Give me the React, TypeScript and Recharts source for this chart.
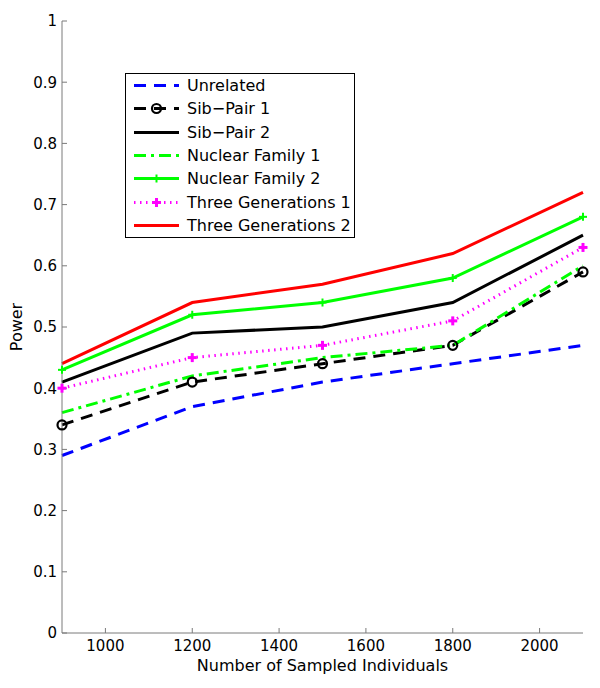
import { LineChart, Line, XAxis, YAxis, Legend } from "recharts"

// Power vs number of sampled individuals, one array per study design
const sampleSizes = [900, 1200, 1500, 1800, 2100]
const unrelated = [0.29, 0.37, 0.41, 0.44, 0.47]
const sibPair1 = [0.34, 0.41, 0.44, 0.47, 0.59]
const sibPair2 = [0.41, 0.49, 0.5, 0.54, 0.65]
const nuclearFamily1 = [0.36, 0.42, 0.45, 0.47, 0.6]
const nuclearFamily2 = [0.43, 0.52, 0.54, 0.58, 0.68]
const threeGenerations1 = [0.4, 0.45, 0.47, 0.51, 0.63]
const threeGenerations2 = [0.44, 0.54, 0.57, 0.62, 0.72]

const xTicks = [1000, 1200, 1400, 1600, 1800, 2000]
const yTicks = [0, 0.1, 0.2, 0.3, 0.4, 0.5, 0.6, 0.7, 0.8, 0.9, 1]

const axisColor = "#7a7a7a"

type Marker = "circle" | "plus" | "plusBold" | null

const series: { key: string; name: string; values: number[]; color: string; dash?: string; width: number; marker: Marker }[] = [
  { key: "unrelated", name: "Unrelated", values: unrelated, color: "#0000ff", dash: "12 8", width: 3, marker: null },
  { key: "sib1", name: "Sib\u2212Pair 1", values: sibPair1, color: "#000000", dash: "12 8", width: 3, marker: "circle" },
  { key: "sib2", name: "Sib\u2212Pair 2", values: sibPair2, color: "#000000", width: 3, marker: null },
  { key: "nuc1", name: "Nuclear Family 1", values: nuclearFamily1, color: "#00ff00", dash: "12 5 3 5", width: 3, marker: null },
  { key: "nuc2", name: "Nuclear Family 2", values: nuclearFamily2, color: "#00ff00", width: 3, marker: "plus" },
  { key: "three1", name: "Three Generations 1", values: threeGenerations1, color: "#ff00ff", dash: "1.5 4.5", width: 3, marker: "plusBold" },
  { key: "three2", name: "Three Generations 2", values: threeGenerations2, color: "#ff0000", width: 3, marker: null },
]

const data = sampleSizes.map((n, i) => {
  const row: Record<string, number> = { n }
  series.forEach((s) => {
    row[s.key] = s.values[i]
  })
  return row
})

function drawMarker(type: Marker, cx: number, cy: number, color: string, key?: string | number) {
  if (type === "circle") {
    return <circle key={key} cx={cx} cy={cy} r={4.5} fill="none" stroke={color} strokeWidth={2.2} />
  }
  if (type === "plus" || type === "plusBold") {
    const h = type === "plus" ? 4 : 4.5
    const w = type === "plus" ? 2 : 3
    return (
      <g key={key}>
        <line x1={cx - h} x2={cx + h} y1={cy} y2={cy} stroke={color} strokeWidth={w} />
        <line x1={cx} x2={cx} y1={cy - h} y2={cy + h} stroke={color} strokeWidth={w} />
      </g>
    )
  }
  return <g key={key} />
}

const renderLegend = () => (
  <div
    style={{
      width: 228,
      height: 163,
      border: "1px solid #000",
      background: "#fff",
      fontSize: 16,
      color: "#000",
    }}
  >
    {series.map((s) => (
      <div key={s.key} style={{ height: 23.3, display: "flex", alignItems: "center" }}>
        <svg width={61} height={23} style={{ flex: "none" }}>
          <line x1={8} x2={53} y1={11.5} y2={11.5} stroke={s.color} strokeWidth={s.width} strokeDasharray={s.dash} />
          {drawMarker(s.marker, 30.5, 11.5, s.color)}
        </svg>
        <span style={{ whiteSpace: "nowrap", lineHeight: "23px" }}>{s.name}</span>
      </div>
    ))}
  </div>
)

export default function App() {
  return (
    <div style={{ position: "absolute", top: 0, left: 0, width: 600, height: 688, background: "#fff", fontFamily: "'DejaVu Sans', sans-serif" }}>
      <LineChart width={600} height={688} data={data} margin={{ top: 21, right: 17, bottom: 0, left: 0 }}>
        <XAxis
          dataKey="n"
          type="number"
          domain={[900, 2100]}
          ticks={xTicks}
          height={55}
          tickSize={-5}
          tickMargin={12}
          axisLine={{ stroke: axisColor }}
          tickLine={{ stroke: axisColor }}
          tick={{ fontSize: 15, fill: "#000" }}
          label={{ value: "Number of Sampled Individuals", position: "insideBottom", offset: 17, fontSize: 16, fill: "#000" }}
        />
        <XAxis
          xAxisId="top"
          dataKey="n"
          type="number"
          orientation="top"
          domain={[900, 2100]}
          ticks={xTicks}
          height={0}
          tickSize={-5}
          tickFormatter={() => ""}
          axisLine={{ stroke: axisColor }}
          tickLine={{ stroke: axisColor }}
        />
        <YAxis
          type="number"
          domain={[0, 1]}
          ticks={yTicks}
          width={62}
          tickSize={-5}
          tickMargin={10}
          axisLine={{ stroke: axisColor }}
          tickLine={{ stroke: axisColor }}
          tick={{ fontSize: 15, fill: "#000" }}
          label={{ value: "Power", angle: -90, position: "insideLeft", offset: 16, fontSize: 16, fill: "#000", style: { textAnchor: "middle" } }}
        />
        <YAxis
          yAxisId="right"
          type="number"
          orientation="right"
          domain={[0, 1]}
          ticks={yTicks}
          width={0}
          tickSize={-5}
          tickFormatter={() => ""}
          axisLine={{ stroke: axisColor }}
          tickLine={{ stroke: axisColor }}
        />
        {series.map((s) => (
          <Line
            key={s.key}
            dataKey={s.key}
            name={s.name}
            type="linear"
            stroke={s.color}
            strokeWidth={s.width}
            strokeDasharray={s.dash}
            isAnimationActive={false}
            dot={s.marker ? (p: any) => drawMarker(s.marker, p.cx, p.cy, s.color, `${s.key}-${p.index}`) : false}
            activeDot={false}
          />
        ))}
        <Legend
          layout="vertical"
          align="center"
          verticalAlign="middle"
          content={renderLegend}
          wrapperStyle={{ left: 125, top: 73, width: 230, height: 165 }}
        />
      </LineChart>
    </div>
  )
}
